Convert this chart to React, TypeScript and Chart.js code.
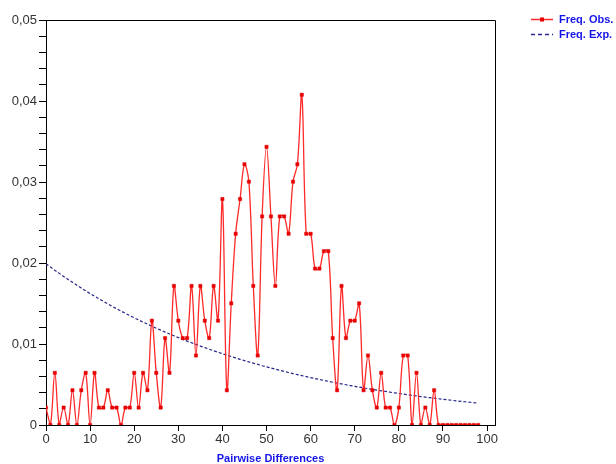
import React, { useEffect, useRef } from "react";
import { Chart, registerables } from "chart.js";

Chart.register(...registerables);

// Pairwise differences (x categories)
const differences: number[] = [
  0, 1, 2, 3, 4, 5, 6, 7, 8, 9,
  10, 11, 12, 13, 14, 15, 16, 17, 18, 19,
  20, 21, 22, 23, 24, 25, 26, 27, 28, 29,
  30, 31, 32, 33, 34, 35, 36, 37, 38, 39,
  40, 41, 42, 43, 44, 45, 46, 47, 48, 49,
  50, 51, 52, 53, 54, 55, 56, 57, 58, 59,
  60, 61, 62, 63, 64, 65, 66, 67, 68, 69,
  70, 71, 72, 73, 74, 75, 76, 77, 78, 79,
  80, 81, 82, 83, 84, 85, 86, 87, 88, 89,
  90, 91, 92, 93, 94, 95, 96, 97, 98,
];

// Observed frequencies
const freqObs: number[] = [
  0.00215, 0, 0.00644, 0, 0.00215, 0, 0.00429, 0, 0.00429, 0.00644,
  0, 0.00644, 0.00215, 0.00215, 0.00429, 0.00215, 0.00215, 0, 0.00215, 0.00215,
  0.00644, 0.00215, 0.00644, 0.00429, 0.01288, 0.00644, 0.00215, 0.01073, 0.00644, 0.01717,
  0.01288, 0.01073, 0.01073, 0.01717, 0.00858, 0.01717, 0.01288, 0.01073, 0.01717, 0.01288,
  0.0279, 0.00429, 0.01502, 0.02361, 0.0279, 0.03219, 0.03004, 0.01717, 0.00858, 0.02575,
  0.03434, 0.02575, 0.01717, 0.02575, 0.02575, 0.02361, 0.03004, 0.03219, 0.04077, 0.02361,
  0.02361, 0.01931, 0.01931, 0.02146, 0.02146, 0.01073, 0.00429, 0.01717, 0.01073, 0.01288,
  0.01288, 0.01502, 0.00429, 0.00858, 0.00429, 0.00215, 0.00644, 0.00215, 0.00215, 0,
  0.00215, 0.00858, 0.00858, 0, 0.00644, 0, 0.00215, 0, 0.00429, 0,
  0, 0, 0, 0, 0, 0, 0, 0, 0,
];

// Expected frequencies
const freqExp: number[] = [
  0.0199, 0.0195, 0.0191, 0.01872, 0.01834, 0.01797, 0.01761, 0.01725, 0.0169, 0.01656,
  0.01623, 0.0159, 0.01558, 0.01526, 0.01496, 0.01465, 0.01436, 0.01407, 0.01378, 0.01351,
  0.01323, 0.01297, 0.0127, 0.01245, 0.0122, 0.01195, 0.01171, 0.01147, 0.01124, 0.01101,
  0.01079, 0.01057, 0.01036, 0.01015, 0.00995, 0.00974, 0.00955, 0.00936, 0.00917, 0.00898,
  0.0088, 0.00862, 0.00845, 0.00828, 0.00811, 0.00795, 0.00779, 0.00763, 0.00748, 0.00732,
  0.00718, 0.00703, 0.00689, 0.00675, 0.00661, 0.00648, 0.00635, 0.00622, 0.0061, 0.00597,
  0.00585, 0.00573, 0.00562, 0.0055, 0.00539, 0.00528, 0.00518, 0.00507, 0.00497, 0.00487,
  0.00477, 0.00468, 0.00458, 0.00449, 0.0044, 0.00431, 0.00422, 0.00414, 0.00405, 0.00397,
  0.00389, 0.00381, 0.00374, 0.00366, 0.00359, 0.00351, 0.00344, 0.00337, 0.00331, 0.00324,
  0.00317, 0.00311, 0.00305, 0.00298, 0.00292, 0.00287, 0.00281, 0.00275, 0.0027,
];

const seriesLabels: string[] = ["Freq. Obs.", "Freq. Exp."];
const xTitle = "Pairwise Differences";

const FONT = "'Liberation Sans', Arial, sans-serif";
const OBS_COLOR = "#ff2a2a";
const MARK_COLOR = "#e60000";
const EXP_COLOR = "#26268a";
const TEXT_BLUE = "#1414e6";

const overlayPlugin = {
  id: "overlay",
  afterDraw(chart: any) {
    const { ctx, chartArea } = chart;
    ctx.save();
    // frame
    ctx.strokeStyle = "#000";
    ctx.lineWidth = 1;
    ctx.beginPath();
    ctx.moveTo(chartArea.left, chartArea.top + 0.5);
    ctx.lineTo(chartArea.right + 0.5, chartArea.top + 0.5);
    ctx.lineTo(chartArea.right + 0.5, chartArea.bottom);
    ctx.stroke();

    // axis title
    ctx.fillStyle = TEXT_BLUE;
    ctx.font = `bold 11px ${FONT}`;
    ctx.textAlign = "center";
    ctx.textBaseline = "middle";
    ctx.fillText(xTitle, (chartArea.left + chartArea.right) / 2, 459);

    // legend
    const lx0 = 531;
    const lx1 = 553;
    ctx.textAlign = "left";
    ctx.lineWidth = 1.5;
    ctx.strokeStyle = OBS_COLOR;
    ctx.beginPath();
    ctx.moveTo(lx0, 19.5);
    ctx.lineTo(lx1, 19.5);
    ctx.stroke();
    ctx.fillStyle = MARK_COLOR;
    ctx.fillRect(540, 17.5, 4, 4);
    ctx.fillStyle = TEXT_BLUE;
    ctx.fillText(seriesLabels[0], 559, 19.5);

    ctx.strokeStyle = EXP_COLOR;
    ctx.setLineDash([4, 3]);
    ctx.beginPath();
    ctx.moveTo(lx0, 34.5);
    ctx.lineTo(lx1, 34.5);
    ctx.stroke();
    ctx.setLineDash([]);
    ctx.fillStyle = TEXT_BLUE;
    ctx.fillText(seriesLabels[1], 559, 34.5);
    ctx.restore();
  },
};

export default function App() {
  const canvasRef = useRef<HTMLCanvasElement | null>(null);

  useEffect(() => {
    const canvas = canvasRef.current;
    if (!canvas) return;
    const obsPoints = differences.map((x, i) => ({ x, y: freqObs[i] }));
    const expPoints = differences.map((x, i) => ({ x, y: freqExp[i] }));

    const chart = new Chart(canvas, {
      type: "line",
      data: {
        datasets: [
          {
            label: seriesLabels[0],
            data: obsPoints,
            borderColor: OBS_COLOR,
            borderWidth: 1.3,
            tension: 0.35,
            pointStyle: "rect",
            pointRadius: 2.3,
            pointBackgroundColor: MARK_COLOR,
            pointBorderColor: MARK_COLOR,
            pointBorderWidth: 0.5,
            fill: false,
          },
          {
            label: seriesLabels[1],
            data: expPoints,
            borderColor: EXP_COLOR,
            borderWidth: 1.2,
            borderDash: [3, 2],
            pointRadius: 0,
            tension: 0,
            fill: false,
          },
        ],
      },
      options: {
        responsive: false,
        animation: false,
        events: [],
        layout: { padding: { top: 20, right: 121, left: 0, bottom: 0 } },
        plugins: {
          legend: { display: false },
          tooltip: { enabled: false },
          title: { display: false },
        },
        scales: {
          x: {
            type: "linear",
            min: 0,
            max: 101.8,
            afterFit: (scale: any) => {
              scale.height = 39;
            },
            grid: {
              drawOnChartArea: false,
              drawTicks: true,
              tickLength: 6,
              color: "#000",
            },
            border: { display: true, color: "#000", width: 1 },
            ticks: {
              stepSize: 10,
              includeBounds: false,
              autoSkip: false,
              maxRotation: 0,
              padding: 1,
              color: "#333",
              font: { family: FONT, size: 13 },
              callback: (v: any) => (v <= 100 ? String(v) : ""),
            },
          },
          y: {
            type: "linear",
            min: 0,
            max: 0.05,
            afterFit: (scale: any) => {
              scale.width = 46;
            },
            grid: {
              drawOnChartArea: false,
              drawTicks: true,
              tickLength: 7,
              color: "#000",
            },
            border: { display: true, color: "#000", width: 1 },
            ticks: {
              stepSize: 0.002,
              autoSkip: false,
              padding: 2,
              color: "#333",
              font: { family: FONT, size: 13 },
              callback: (v: any) => {
                const n = Number(v) / 0.01;
                if (Math.abs(n - Math.round(n)) > 1e-6) return "";
                if (Math.round(n) === 0) return "0";
                return (Math.round(n) / 100).toFixed(2).replace(".", ",");
              },
            },
          },
        },
      },
      plugins: [overlayPlugin],
    });
    return () => chart.destroy();
  }, []);

  return (
    <div style={{ position: "absolute", left: 0, top: 0, width: 616, height: 464, background: "#fff" }}>
      <canvas ref={canvasRef} width={616} height={464} style={{ width: 616, height: 464 }} />
    </div>
  );
}
